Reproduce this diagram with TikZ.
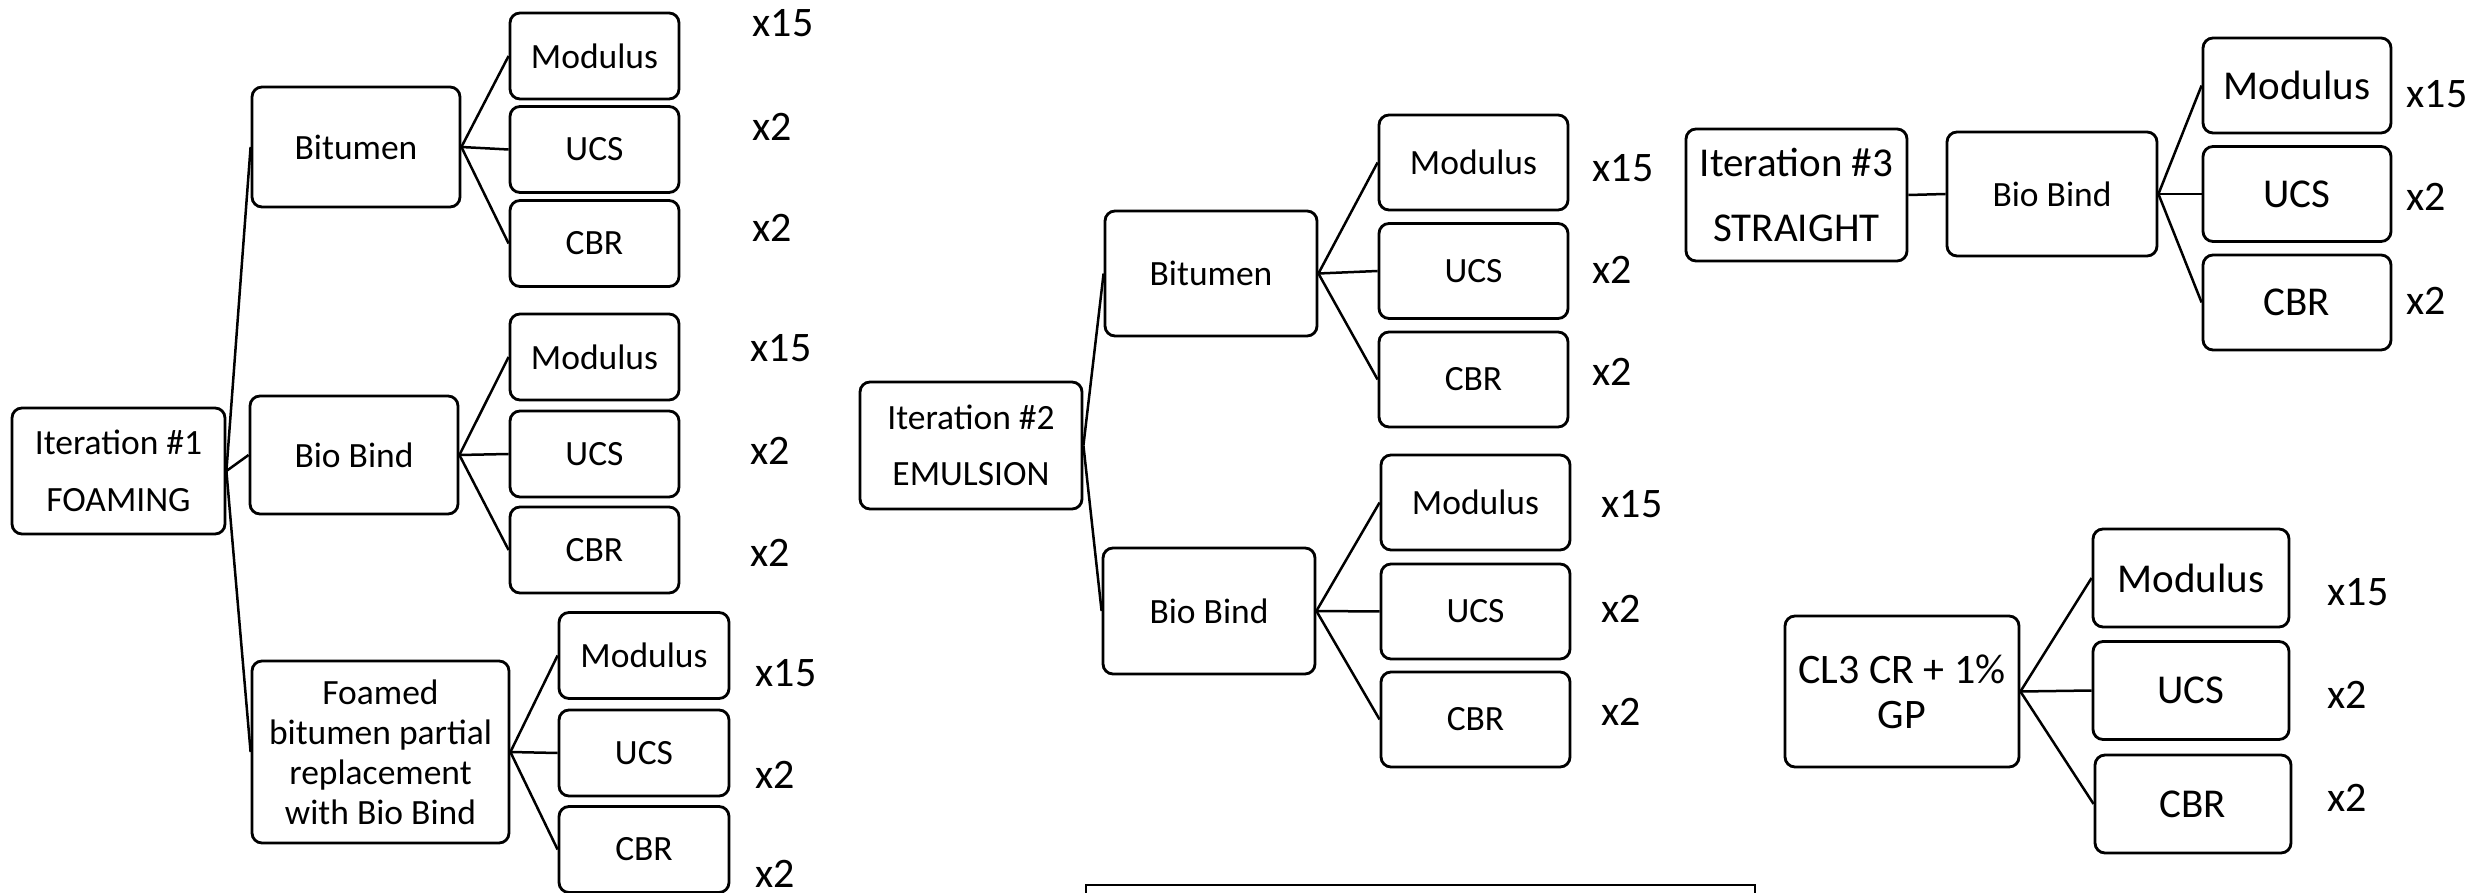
\documentclass[tikz,border=0pt]{standalone}
\usepackage{fontspec}
\setmainfont{Carlito}
\begin{document}
\begin{tikzpicture}[x=0.3pt,y=-0.3pt,
  box/.style 2 args={draw, line width=0.85pt, rounded corners=3pt,
    minimum width=#1*0.3pt, minimum height=#2*0.3pt, inner sep=0pt, align=center},
  small/.style={font=\fontsize{10.65}{12.8}\selectfont},
  big/.style={font=\fontsize{12.3}{14.8}\selectfont},
  cnt/.style={font=\fontsize{12.6}{15}\selectfont, anchor=west, inner sep=0pt},
  link/.style={line width=0.75pt}]
\useasboundingbox (0,0) rectangle (2489,893);
\begin{scope}
\clip (0,0) rectangle (2489,893);
% ---------- Group 1 ----------
\node[box={213}{126}, font=\fontsize{10.65}{17.1}\selectfont] (it1) at (118.5,471) {Iteration \#1\\FOAMING};
\node[box={208}{120}, small] (bit1) at (356,147) {Bitumen};
\node[box={208}{118}, small] (bio1) at (354,455) {Bio Bind};
\node[box={257}{182}, font=\fontsize{10.65}{12}\selectfont] (foam1) at (380.5,752) {Foamed\\bitumen partial\\replacement\\with Bio Bind};
\node[box={169}{86}, small] (m1) at (594.5,56) {Modulus};
\node[box={169}{86}, small] (u1) at (594.5,149.5) {UCS};
\node[box={169}{86}, small] (c1) at (594.5,243.5) {CBR};
\node[box={169}{86}, small] (m2) at (594.5,357) {Modulus};
\node[box={169}{86}, small] (u2) at (594.5,454) {UCS};
\node[box={169}{86}, small] (c2) at (594.5,550) {CBR};
\node[box={170}{86}, small] (m3) at (644,655.5) {Modulus};
\node[box={170}{86}, small] (u3) at (644,753) {UCS};
\node[box={170}{86}, small] (c3) at (644,849.5) {CBR};
\foreach \a/\b in {it1/bit1,it1/bio1,it1/foam1,bit1/m1,bit1/u1,bit1/c1,bio1/m2,bio1/u2,bio1/c2,foam1/m3,foam1/u3,foam1/c3}
  \draw[link] (\a.east) -- (\b.west);
\node[cnt] (l1) at (752,23) {x15};
\node[cnt] (l2) at (752,127) {x2};
\node[cnt] (l3) at (752,228) {x2};
\node[cnt] (l4) at (750,348) {x15};
\node[cnt] (l5) at (750,451) {x2};
\node[cnt] (l6) at (750,553) {x2};
\node[cnt] (l7) at (755,673) {x15};
\node[cnt] (l8) at (755,775) {x2};
\node[cnt] (l9) at (755,874) {x2};
% ---------- Group 2 ----------
\node[box={222}{127}, font=\fontsize{10.65}{16.8}\selectfont] (it2) at (971,445.5) {Iteration \#2\\EMULSION};
\node[box={212}{125}, small] (bit2) at (1211,273.5) {Bitumen};
\node[box={212}{126}, small] (bio2) at (1209,611) {Bio Bind};
\node[box={189}{95}, small] (m4) at (1473.5,162.5) {Modulus};
\node[box={189}{95}, small] (u4) at (1473.5,271) {UCS};
\node[box={189}{95}, small] (c4) at (1473.5,379.5) {CBR};
\node[box={189}{95}, small] (m5) at (1475.5,502.5) {Modulus};
\node[box={189}{95}, small] (u5) at (1475.5,611.5) {UCS};
\node[box={189}{95}, small] (c5) at (1475.5,719.5) {CBR};
\foreach \a/\b in {it2/bit2,it2/bio2,bit2/m4,bit2/u4,bit2/c4,bio2/m5,bio2/u5,bio2/c5}
  \draw[link] (\a.east) -- (\b.west);
\node[cnt] (l10) at (1592,168) {x15};
\node[cnt] (l11) at (1592,270) {x2};
\node[cnt] (l12) at (1592,372) {x2};
\node[cnt] (l13) at (1601,504) {x15};
\node[cnt] (l14) at (1601,609) {x2};
\node[cnt] (l15) at (1601,712) {x2};
% ---------- Group 3 ----------
\node[box={221}{132}, font=\fontsize{12.3}{19.5}\selectfont] (it3) at (1796.5,195) {Iteration \#3\\STRAIGHT};
\node[box={210}{124}, small] (bio3) at (2052,194) {Bio Bind};
\node[box={188}{95}, big] (m6) at (2297,85.5) {Modulus};
\node[box={188}{95}, big] (u6) at (2297,194) {UCS};
\node[box={188}{95}, big] (c6) at (2297,302.5) {CBR};
\foreach \a/\b in {it3/bio3,bio3/m6,bio3/u6,bio3/c6}
  \draw[link] (\a.east) -- (\b.west);
\node[cnt] (l16) at (2406,94) {x15};
\node[cnt] (l17) at (2406,197) {x2};
\node[cnt] (l18) at (2406,301) {x2};
% ---------- Group 4 ----------
\node[box={234}{151}, font=\fontsize{12.6}{13.5}\selectfont] (cl3) at (1902,691.5) {CL3 CR + 1\%\\GP};
\node[box={196}{98}, big] (m7) at (2191,578) {Modulus};
\node[box={196}{98}, big] (u7) at (2191,690.5) {UCS};
\node[box={196}{98}, big] (c7) at (2193,804) {CBR};
\foreach \a/\b in {cl3/m7,cl3/u7,cl3/c7}
  \draw[link] (\a.east) -- (\b.west);
\node[cnt] (l19) at (2327,592) {x15};
\node[cnt] (l20) at (2327,695) {x2};
\node[cnt] (l21) at (2327,798) {x2};
% ---------- cut-off box at the bottom ----------
\draw[line width=0.85pt] (1086,910) -- (1086,885) -- (1755,885) -- (1755,910);
\end{scope}
\end{tikzpicture}
\end{document}
